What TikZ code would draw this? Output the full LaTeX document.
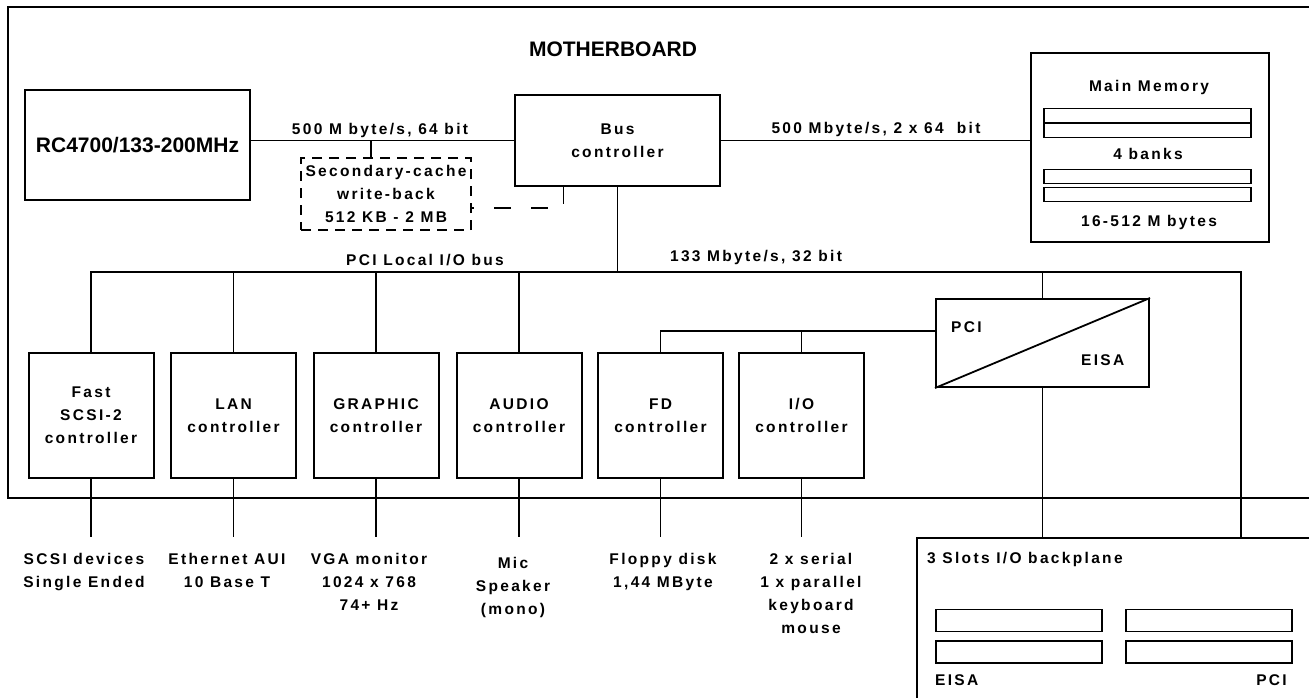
\documentclass[tikz,border=0pt]{standalone}
\usepackage{fontspec}
\setmainfont{Liberation Sans}
\newfontfamily\mbspaced{Liberation Sans}[LetterSpace=15]
\newcommand{\mbsmall}{\mbspaced\bfseries\fontsize{15.5}{23}\selectfont}
\newcommand{\mbbig}{\bfseries\fontsize{21}{25}\selectfont}
\tikzset{
  mbbox/.style={
    draw, line width=2pt, align=center, inner sep=0pt, font=\mbsmall
  },
  ctl/.style={mbbox, minimum width=125pt, minimum height=125pt},
  bankbar/.style={draw, line width=1.8pt, inner sep=0pt, minimum height=14pt},
  slotbar/.style={draw, line width=1.8pt, inner sep=0pt, minimum width=166pt, minimum height=22pt},
  wire/.style={line width=1.8pt},
  dwire/.style={wire, dash pattern=on 17pt off 20pt},
  lbl/.style={font=\mbsmall, align=center, inner sep=0pt}
}
\begin{document}
\begin{tikzpicture}[x=1pt,y=-1pt]
  \useasboundingbox (0,0) rectangle (1309,698);
  \clip (0,0) rectangle (1309,698);
  \fill[white] (0,0) rectangle (1309,698);
  \draw[line width=2.4pt] (8,7) rectangle (1340,498);
  \node[font=\mbbig] (mbtitle) at (613,49) {MOTHERBOARD};

  % processor, cache, bus controller, memory
  \node[mbbox, font=\mbbig, minimum width=225pt, minimum height=110pt] (cpu) at (137.5,145) {RC4700/133-200MHz};
  \node[mbbox, minimum width=205pt, minimum height=91pt] (bus) at (617.5,140.5) {Bus\\controller};
  \node[mbbox, dash pattern=on 10pt off 7pt, minimum width=170pt, minimum height=72pt] (cache) at (386,194)
    {Secondary-cache\\write-back\\512 KB - 2 MB};
  \node[mbbox, minimum width=238pt, minimum height=189pt] (mem) at (1150,147.5) {};
  \node[lbl] (memtitle) at (1149,87) {Main Memory};
  \foreach \y/\n in {115.5/1,130.5/2,176.5/3,194.5/4}
    \node[bankbar, minimum width=207pt] (bank\n) at (1147.5,\y) {};
  \node[lbl] (memmid) at (1148,154) {4 banks};
  \node[lbl] (memsize) at (1149,222) {16-512 M bytes};

  \node[lbl] (cpurate) at (380,130) {500 M byte/s, 64 bit};
  \node[lbl] (memrate) at (876,129) {500 Mbyte/s, 2 x 64\ \ bit};
  \node[lbl] (pcilbl) at (425,260) {PCI Local I/O bus};
  \node[lbl] (pcirate) at (756,257) {133 Mbyte/s, 32 bit};

  % controllers
  \node[ctl] (scsi) at (91,415.5) {Fast\\SCSI-2\\controller};
  \node[ctl] (lan) at (233.5,415.5) {LAN\\controller};
  \node[ctl] (gfx) at (376,415.5) {GRAPHIC\\controller};
  \node[ctl] (audio) at (519,415.5) {AUDIO\\controller};
  \node[ctl] (fd) at (660.5,415.5) {FD\\controller};
  \node[ctl] (io) at (801.5,415.5) {I/O\\controller};

  \node[mbbox, minimum width=213pt, minimum height=88pt] (bridge) at (1042.5,343) {};
  \node[lbl, anchor=west] (bridgepci) at (951,327) {PCI};
  \node[lbl, anchor=west] (bridgeisa) at (1081,360) {EISA};

  % backplane
  \node[mbbox, anchor=north west, minimum width=500pt, minimum height=250pt] (bp) at (916,537) {};
  \node[lbl, anchor=west] (bptitle) at (927,559) {3 Slots I/O backplane};
  \foreach \x/\s in {1019/e,1209/p}
    \foreach \y/\n in {620.5/1,652/2}
      \node[slotbar] (slot\s\n) at (\x,\y) {};
  \node[lbl, anchor=west] (bpeisa) at (935,680) {EISA};
  \node[lbl, anchor=east] (bppci) at (1287,680) {PCI};

  % devices
  \node[lbl, anchor=north] (scsidev) at (84,553) {SCSI devices\\Single Ended};
  \node[lbl, anchor=north] (landev) at (227,553) {Ethernet AUI\\10 Base T};
  \node[lbl, anchor=north] (gfxdev) at (369,553) {VGA monitor\\1024 x 768\\74+ Hz};
  \node[lbl, anchor=north] (audiodev) at (513,557) {Mic\\Speaker\\(mono)};
  \node[lbl, anchor=north] (fddev) at (663,553) {Floppy disk\\1,44 MByte};
  \node[lbl, anchor=north] (iodev) at (811,553) {2 x serial\\1 x parallel\\keyboard\\mouse};

  \coordinate (pcir) at (1241,272);
  \coordinate (devend) at (0,537);
  \coordinate (isabus) at ([yshift=12pt]bridge.west);

  \draw[wire] (cpu.east |- bus.west) -- (bus.west);
  \draw[wire] ([xshift=-15pt]cache.north) -- ([xshift=-15pt]cache.north |- bus.west);
  \draw[dwire] ([xshift=-54pt]bus.south) |- ([yshift=-14pt]cache.east);
  \draw[wire] (bus.east) -- (bus.east -| mem.west);
  \draw[wire] (bus.south) -- (bus.south |- pcir);
  \draw[wire] (scsi.north) |- (pcir) -- (pcir |- bp.north);
  \foreach \c in {lan,gfx,audio}
    \draw[wire] (\c.north) -- (\c.north |- pcir);
  \draw[wire] (bridge.north) -- (bridge.north |- pcir);
  \draw[wire] (fd.north) |- (isabus);
  \draw[wire] (io.north) -- (io.north |- isabus);
  \draw[wire] (bridge.south west) -- (bridge.north east);
  \draw[wire] (bridge.south) -- (bridge.south |- bp.north);
  \foreach \c in {scsi,lan,gfx,audio,fd,io}
    \draw[wire] (\c.south) -- (\c.south |- devend);
\end{tikzpicture}
\end{document}
